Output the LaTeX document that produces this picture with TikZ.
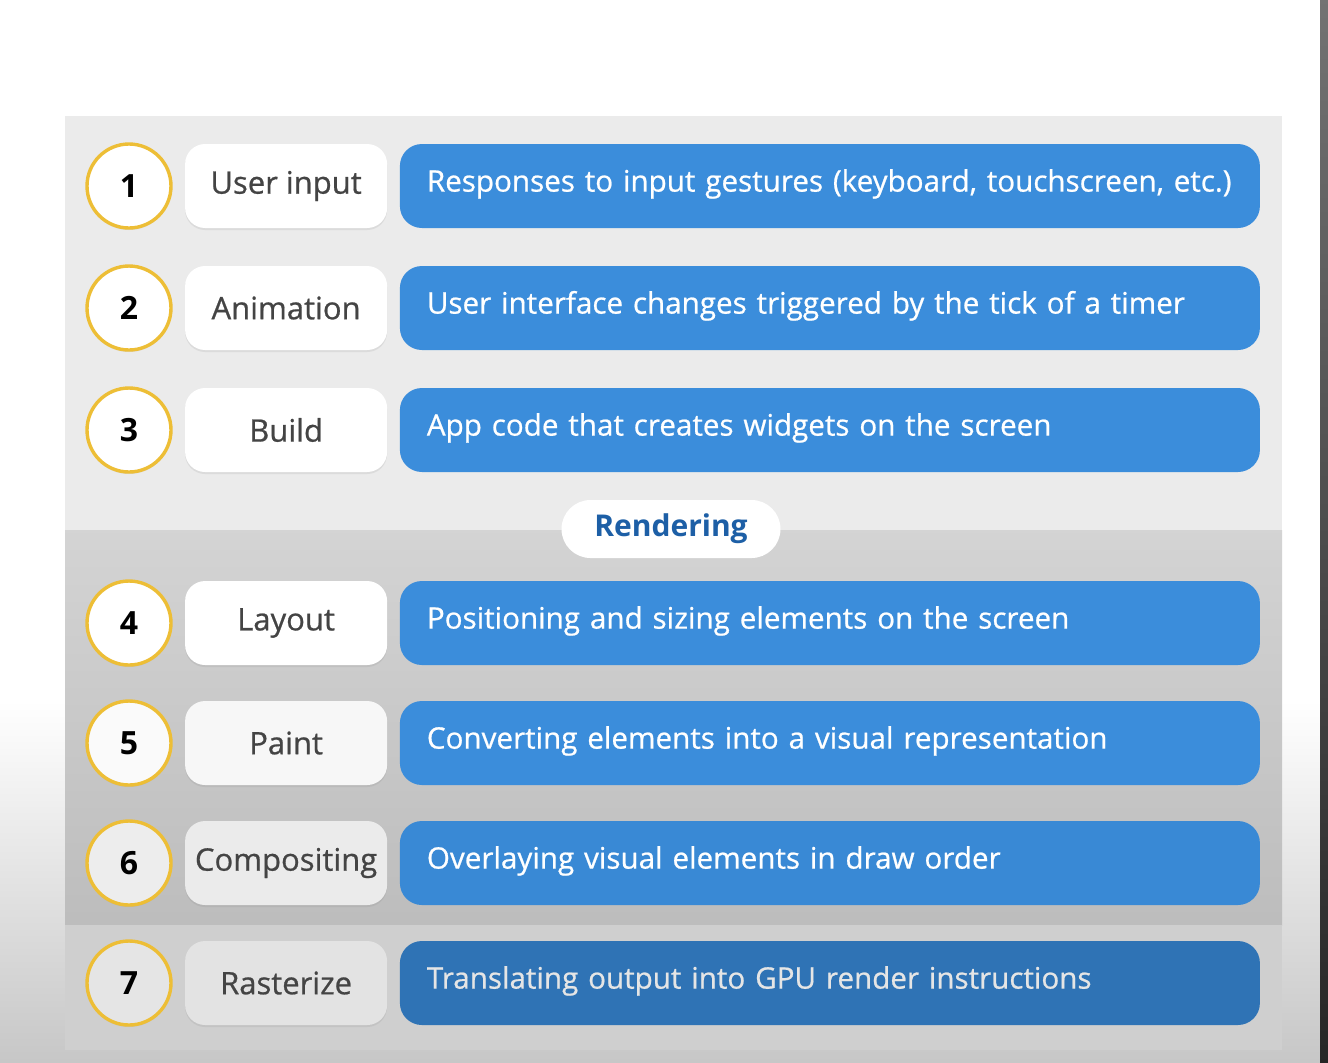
\documentclass[tikz,border=0pt]{standalone}
\usepackage{fontspec}
\setmainfont{Open Sans}
\newfontfamily\medfont{Open Sans}[FakeBold=0.7]
\usepackage{tikz}
\usetikzlibrary{positioning,shadows}

\definecolor{ring}{HTML}{EDBE36}
\definecolor{blu}{HTML}{3B8DDB}
\definecolor{bludark}{HTML}{2F73B5}
\definecolor{tagblue}{HTML}{1D5FA6}
\definecolor{txt}{HTML}{444444}

\begin{document}
\begin{tikzpicture}[x=0.5pt,y=-0.5pt,node distance=6pt,
    num/.style={circle,draw=ring,line width=1.7pt,fill=white,minimum size=42pt,
        font=\fontsize{16}{19}\selectfont\bfseries,text=black,
        drop shadow={shadow xshift=0pt,shadow yshift=-1pt,opacity=.15}},
    lbl/.style={rounded corners=10pt,fill=white,minimum width=101pt,minimum height=42pt,
        inner sep=2pt,font=\medfont\fontsize{15.5}{19}\selectfont,text=txt,
        drop shadow={shadow xshift=0pt,shadow yshift=-1pt,opacity=.15}},
    desc/.style={rounded corners=11pt,fill=blu,minimum height=42pt,inner xsep=13.5pt,
        text width=403pt,align=left,text height=0.76em,text depth=0.2em,
        font=\medfont\fontsize{14.8}{18}\selectfont,text=white},
    tag/.style={rounded corners=14.5pt,fill=white,minimum width=109.5pt,minimum height=29pt,
        font=\fontsize{15}{18}\selectfont\bfseries,text=tagblue}]
    \useasboundingbox (0,0) rectangle (1328,1062);
    \fill[white] (0,0) rectangle (1328,1062);
    \shade[top color=white,bottom color=black!22] (0,700) rectangle (1320,1062);
    \fill[black!8] (65,116) rectangle (1282,530);
    \shade[top color=black!17,bottom color=black!26] (65,530) rectangle (1282,925);
    \fill[black!19] (65,925) rectangle (1282,1050);
    \shade[top color=black!55,bottom color=black!85] (1320,0) rectangle (1328,1062);

    \node[num] (n1) at (129,186) {1};
    \node[lbl] (l1) [right = of n1] {User input};
    \node[desc] (d1) [right = of l1] {Responses to input gestures (keyboard, touchscreen, etc.)};

    \node[num] (n2) at (129,308) {2};
    \node[lbl] (l2) [right = of n2] {Animation};
    \node[desc] (d2) [right = of l2] {User interface changes triggered by the tick of a timer};

    \node[num] (n3) at (129,430) {3};
    \node[lbl] (l3) [right = of n3] {Build};
    \node[desc] (d3) [right = of l3] {App code that creates widgets on the screen};

    \node[tag] (r) at (671,529) {Rendering};

    \node[num] (n4) at (129,623) {4};
    \node[lbl] (l4) [right = of n4] {Layout};
    \node[desc] (d4) [right = of l4] {Positioning and sizing elements on the screen};

    \node[num,fill=black!2] (n5) at (129,743) {5};
    \node[lbl,fill=black!3] (l5) [right = of n5] {Paint};
    \node[desc] (d5) [right = of l5] {Converting elements into a visual representation};

    \node[num,fill=black!7] (n6) at (129,863) {6};
    \node[lbl,fill=black!8] (l6) [right = of n6] {Compositing};
    \node[desc,fill=blu!85!bludark] (d6) [right = of l6] {Overlaying visual elements in draw order};

    \node[num,fill=black!10] (n7) at (129,983) {7};
    \node[lbl,fill=black!11] (l7) [right = of n7] {Rasterize};
    \node[desc,fill=bludark,text=black!10] (d7) [right = of l7] {Translating output into GPU render instructions};
\end{tikzpicture}
\end{document}
